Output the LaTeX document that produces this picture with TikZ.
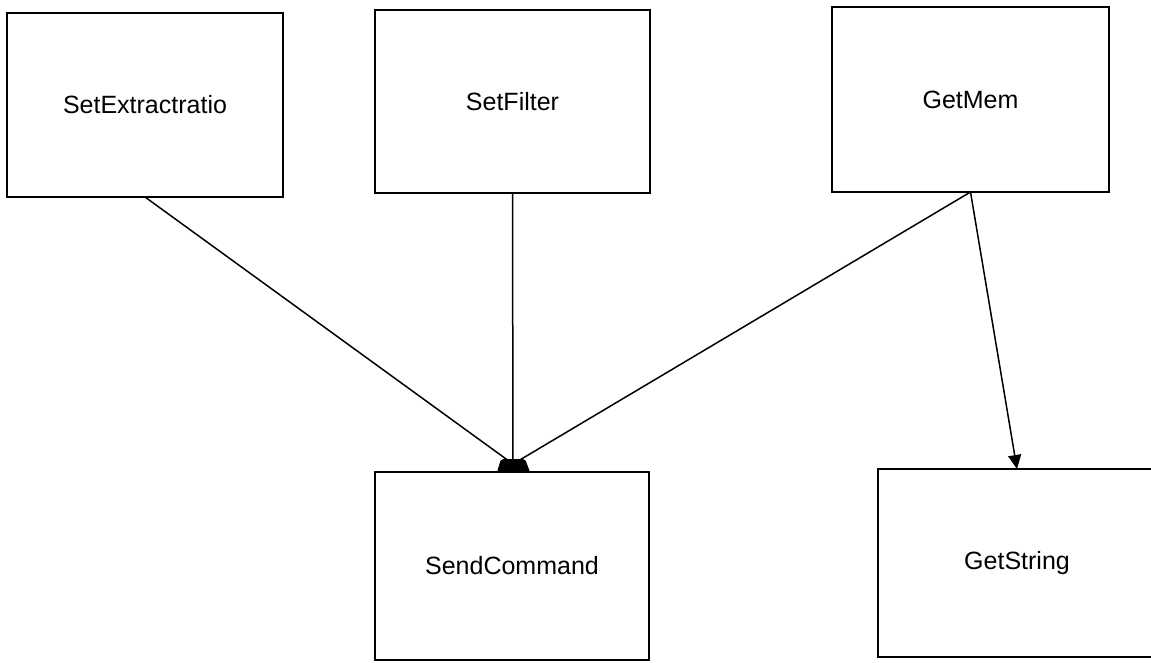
\documentclass[tikz,border=0pt]{standalone}
\usepackage{fontspec}
\setmainfont{Liberation Sans}
\usetikzlibrary{arrows.meta}
\begin{document}
\begin{tikzpicture}[x=1pt,y=-1pt,
  box/.style={draw=black, line width=1.6pt, fill=white, inner sep=0pt, outer sep=0pt,
    font=\fontsize{25}{29}\selectfont},
  link/.style={draw=black, line width=1.5pt},
  arr/.style={link, -{Triangle[length=14pt,width=13pt]}}]
\useasboundingbox (0,0) rectangle (1151,662);
\fill[white] (0,0) rectangle (1151,662);
\node[box, minimum width=276pt, minimum height=184pt] (se) at (145,105) {SetExtractratio};
\node[box, minimum width=275pt, minimum height=183pt] (sf) at (512.5,101.5) {SetFilter};
\node[box, minimum width=277pt, minimum height=185pt] (gm) at (970.5,99.5) {GetMem};
\node[box, minimum width=274pt, minimum height=188pt] (sc) at (512,566) {SendCommand};
\node[box, minimum width=278pt, minimum height=188pt] (gs) at (1017,563) {GetString};
\coordinate (hub) at (513,464);
\draw[link] (se.south) -- (hub);
\draw[link] (sf.south) -- (hub);
\draw[link] (gm.south) -- (hub);
\fill[black, rounded corners=2pt] (497,472) -- (501,459) -- (525,459) -- (530,472) -- cycle;
\draw[arr] (gm.south) -- (gs.north);
\end{tikzpicture}
\end{document}
